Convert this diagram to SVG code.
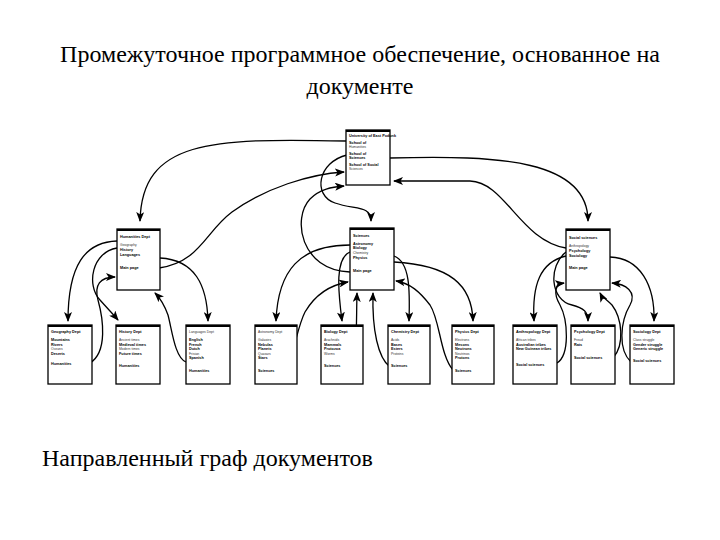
<svg xmlns="http://www.w3.org/2000/svg" width="720" height="540" viewBox="0 0 720 540">
<style>
.title{font-family:"Liberation Serif","Times New Roman",serif;font-size:24px;fill:#000}
.box{fill:#fff;stroke:#000;stroke-width:1.3}
.bar{stroke:#000;stroke-width:2.2}
.t{font-family:"Liberation Sans",Arial,sans-serif;font-size:3.8px;font-weight:bold;fill:#000}
.l{font-family:"Liberation Sans",Arial,sans-serif;font-size:3.4px;fill:#333}
.c{fill:none;stroke:#000;stroke-width:1.3}
</style>
<defs>
<marker id="ah" viewBox="0 0 10 8" refX="9" refY="4" markerWidth="10" markerHeight="8" markerUnits="userSpaceOnUse" orient="auto">
<path d="M0,0 L10,4 L0,8 L2.5,4 Z" fill="#000"/>
</marker>
</defs>
<rect width="720" height="540" fill="#fff"/>
<text class="title" x="360" y="62" text-anchor="middle">Промежуточное программное обеспечение, основанное на</text>
<text class="title" x="360" y="94" text-anchor="middle">документе</text>
<text class="title" x="42" y="466">Направленный граф документов</text>

<g id="connectors">
<path class="c" marker-end="url(#ah)" d="M346,141 C 210,138 142,140 140,221"/>
<path class="c" marker-end="url(#ah)" d="M159,268 C 200,262 205,232 232,212 C 265,188 310,174 344,172"/>
<path class="c" marker-end="url(#ah)" d="M347,155 C 318,162 312,195 335,203 C 355,210 371,205 371,221"/>
<path class="c" marker-end="url(#ah)" d="M350,272 C 300,270 292,218 310,199 C 320,189 332,187 344,186"/>
<path class="c" marker-end="url(#ah)" d="M390,158 C 500,155 588,160 588,221"/>
<path class="c" marker-end="url(#ah)" d="M566,248 C 520,240 505,182 470,181 L 394,181"/>
<path class="c" marker-end="url(#ah)" d="M117,241 C 85,242 68,265 68,321"/>
<path class="c" marker-end="url(#ah)" d="M117,248 C 92,252 86,285 100,300 C 108,309 113,314 118,320"/>
<path class="c" marker-end="url(#ah)" d="M160,258 C 195,260 207,285 208,321"/>
<path class="c" marker-end="url(#ah)" d="M90,363 C 108,352 103,318 98,300 C 94,285 100,277 115,277"/>
<path class="c" marker-end="url(#ah)" d="M186,362 C 175,358 172,330 168,315 C 164,304 160,298 155,293"/>
<path class="c" marker-end="url(#ah)" d="M350,245 C 300,245 278,270 276,321"/>
<path class="c" marker-end="url(#ah)" d="M350,252 C 335,258 338,290 342,321"/>
<path class="c" marker-end="url(#ah)" d="M394,256 C 410,262 410,290 409,321"/>
<path class="c" marker-end="url(#ah)" d="M394,262 C 450,265 472,285 473,321"/>
<path class="c" marker-end="url(#ah)" d="M283,372 C 295,355 296,330 305,312 C 315,295 330,285 348,282"/>
<path class="c" marker-end="url(#ah)" d="M348,367 C 358,355 356,330 357,293"/>
<path class="c" marker-end="url(#ah)" d="M390,367 C 378,358 372,330 373,293"/>
<path class="c" marker-end="url(#ah)" d="M453,370 C 440,355 440,320 430,305 C 420,292 410,283 396,281"/>
<path class="c" marker-end="url(#ah)" d="M566,256 C 540,262 532,285 534,321"/>
<path class="c" marker-end="url(#ah)" d="M566,252 C 548,266 550,300 572,305 C 584,308 588,312 588,321"/>
<path class="c" marker-end="url(#ah)" d="M610,257 C 640,258 655,285 654,321"/>
<path class="c" marker-end="url(#ah)" d="M557,363 C 570,355 568,320 560,305 C 553,293 555,284 564,283"/>
<path class="c" marker-end="url(#ah)" d="M613,358 C 625,345 622,318 612,305 C 606,299 602,297 600,293"/>
<path class="c" marker-end="url(#ah)" d="M631,362 C 618,350 620,322 630,305 C 637,292 626,284 612,283"/>
</g>

<g id="top">
<rect class="box" x="346" y="130" width="44" height="55"/>
<line class="bar" x1="346" y1="131" x2="390" y2="131"/>
<text class="t" x="349" y="137">University of East Podunk</text>
<text class="t" x="349" y="144">School of</text><text class="l" x="349" y="148">Humanities</text>
<text class="t" x="349" y="155">School of</text><text class="t" x="349" y="159">Sciences</text>
<text class="t" x="349" y="166">School of Social</text><text class="l" x="349" y="170">Sciences</text>
</g>

<g id="humanities">
<rect class="box" x="117" y="229" width="43" height="61"/>
<line class="bar" x1="117" y1="230" x2="160" y2="230"/>
<text class="t" x="120" y="238">Humanities Dept</text>
<text class="l" x="120" y="246">Geography</text>
<text class="t" x="120" y="251">History</text>
<text class="t" x="120" y="256">Languages</text>
<text class="t" x="120" y="269">Main page</text>
</g>

<g id="sciences">
<rect class="box" x="350" y="228" width="44" height="62"/>
<line class="bar" x1="350" y1="229" x2="394" y2="229"/>
<text class="t" x="353" y="237">Sciences</text>
<text class="t" x="353" y="245">Astronomy</text>
<text class="t" x="353" y="249">Biology</text>
<text class="l" x="353" y="254">Chemistry</text>
<text class="t" x="353" y="259">Physics</text>
<text class="t" x="353" y="272">Main page</text>
</g>

<g id="social">
<rect class="box" x="566" y="229" width="44" height="61"/>
<line class="bar" x1="566" y1="230" x2="610" y2="230"/>
<text class="t" x="569" y="239">Social sciences</text>
<text class="l" x="569" y="247">Anthropology</text>
<text class="t" x="569" y="252">Psychology</text>
<text class="t" x="569" y="257">Sociology</text>
<text class="t" x="569" y="269">Main page</text>
</g>

<g id="geography">
<rect class="box" x="48" y="325" width="44" height="59"/>
<line class="bar" x1="48" y1="326" x2="92" y2="326"/>
<text class="t" x="51" y="333">Geography Dept</text>
<text class="t" x="51" y="341">Mountains</text>
<text class="t" x="51" y="345.5">Rivers</text>
<text class="l" x="51" y="350">Oceans</text>
<text class="t" x="51" y="354.5">Deserts</text>
<text class="t" x="51" y="365">Humanities</text>
</g>

<g id="history">
<rect class="box" x="116" y="325" width="44" height="59"/>
<line class="bar" x1="116" y1="326" x2="160" y2="326"/>
<text class="t" x="119" y="333">History Dept</text>
<text class="l" x="119" y="341">Ancient times</text>
<text class="t" x="119" y="345.5">Medieval times</text>
<text class="l" x="119" y="350">Modern times</text>
<text class="t" x="119" y="354.5">Future times</text>
<text class="t" x="119" y="367">Humanities</text>
</g>

<g id="languages">
<rect class="box" x="186" y="325" width="44" height="59"/>
<line class="bar" x1="186" y1="326" x2="230" y2="326"/>
<text class="l" x="189" y="333">Languages Dept</text>
<text class="t" x="189" y="341">English</text>
<text class="t" x="189" y="345.5">French</text>
<text class="t" x="189" y="350">Dutch</text>
<text class="l" x="189" y="354.5">Frisian</text>
<text class="t" x="189" y="359">Spanish</text>
<text class="t" x="189" y="372">Humanities</text>
</g>

<g id="astronomy">
<rect class="box" x="255" y="325" width="42" height="59"/>
<line class="bar" x1="255" y1="326" x2="297" y2="326"/>
<text class="l" x="258" y="333">Astronomy Dept</text>
<text class="l" x="258" y="341">Galaxies</text>
<text class="t" x="258" y="345.5">Nebulas</text>
<text class="t" x="258" y="350">Planets</text>
<text class="l" x="258" y="354.5">Quasars</text>
<text class="t" x="258" y="359">Stars</text>
<text class="t" x="258" y="372">Sciences</text>
</g>

<g id="biology">
<rect class="box" x="321" y="325" width="42" height="59"/>
<line class="bar" x1="321" y1="326" x2="363" y2="326"/>
<text class="t" x="324" y="333">Biology Dept</text>
<text class="l" x="324" y="341">Arachnids</text>
<text class="t" x="324" y="345.5">Mammals</text>
<text class="t" x="324" y="350">Protozoa</text>
<text class="l" x="324" y="354.5">Worms</text>
<text class="t" x="324" y="367">Sciences</text>
</g>

<g id="chemistry">
<rect class="box" x="388" y="325" width="42" height="59"/>
<line class="bar" x1="388" y1="326" x2="430" y2="326"/>
<text class="t" x="391" y="333">Chemistry Dept</text>
<text class="l" x="391" y="341">Acids</text>
<text class="t" x="391" y="345.5">Bases</text>
<text class="t" x="391" y="350">Esters</text>
<text class="l" x="391" y="354.5">Proteins</text>
<text class="t" x="391" y="367">Sciences</text>
</g>

<g id="physics">
<rect class="box" x="452" y="325" width="42" height="59"/>
<line class="bar" x1="452" y1="326" x2="494" y2="326"/>
<text class="t" x="455" y="333">Physics Dept</text>
<text class="l" x="455" y="341">Electrons</text>
<text class="t" x="455" y="345.5">Mesons</text>
<text class="t" x="455" y="350">Neutrons</text>
<text class="l" x="455" y="354.5">Neutrinos</text>
<text class="t" x="455" y="359">Protons</text>
<text class="t" x="455" y="372">Sciences</text>
</g>

<g id="anthropology">
<rect class="box" x="513" y="325" width="44" height="59"/>
<line class="bar" x1="513" y1="326" x2="557" y2="326"/>
<text class="t" x="516" y="333">Anthropology Dept</text>
<text class="l" x="516" y="341">African tribes</text>
<text class="t" x="516" y="345.5">Australian tribes</text>
<text class="t" x="516" y="350">New Guinean tribes</text>
<text class="t" x="516" y="366">Social sciences</text>
</g>

<g id="psychology">
<rect class="box" x="571" y="325" width="44" height="59"/>
<line class="bar" x1="571" y1="326" x2="615" y2="326"/>
<text class="t" x="574" y="333">Psychology Dept</text>
<text class="l" x="574" y="341">Freud</text>
<text class="t" x="574" y="345.5">Rats</text>
<text class="t" x="574" y="359">Social sciences</text>
</g>

<g id="sociology">
<rect class="box" x="630" y="325" width="44" height="59"/>
<line class="bar" x1="630" y1="326" x2="674" y2="326"/>
<text class="t" x="633" y="333">Sociology Dept</text>
<text class="l" x="633" y="341">Class struggle</text>
<text class="t" x="633" y="345.5">Gender struggle</text>
<text class="t" x="633" y="350">Generic struggle</text>
<text class="t" x="633" y="362">Social sciences</text>
</g>
</svg>
